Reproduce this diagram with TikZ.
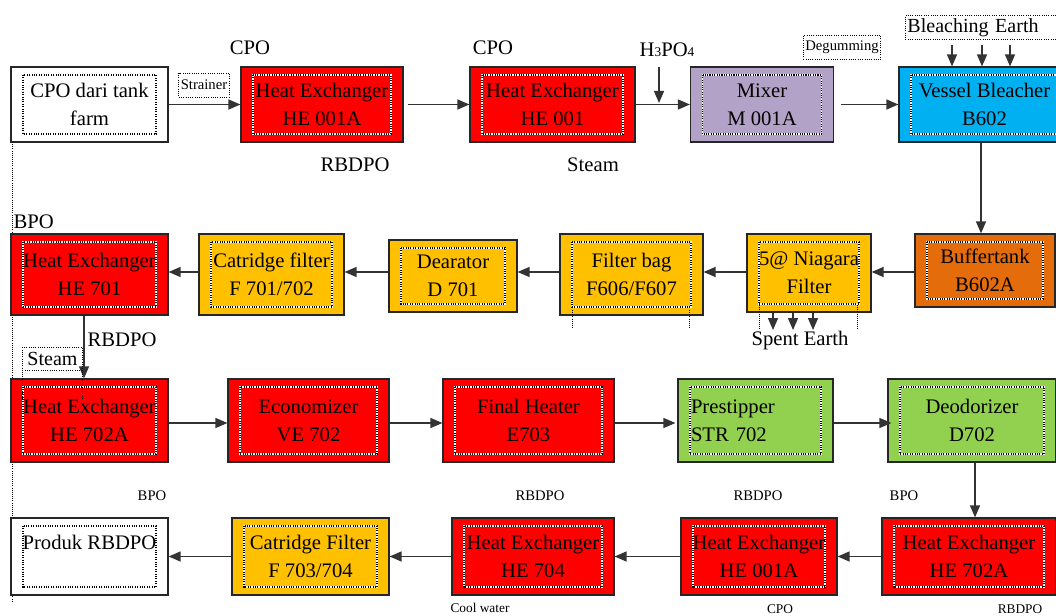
\documentclass[tikz,border=0pt]{standalone}
\usepackage{fontspec}
\setmainfont{Liberation Serif}
\usetikzlibrary{arrows.meta}
\definecolor{hxred}{HTML}{FF0000}
\definecolor{mixlilac}{HTML}{B3A2C7}
\definecolor{bleachblue}{HTML}{00B0F0}
\definecolor{bufforange}{HTML}{E46C0A}
\definecolor{filtgold}{HTML}{FFC000}
\definecolor{stripgreen}{HTML}{92D050}
\tikzset{
  unit/.style={draw=black!85, line width=0.9pt, align=center, inner sep=0pt,
    font=\fontsize{15.5}{21}\selectfont,
    path picture={
      \draw[white, line width=0.8pt] ([shift={(9pt,-6pt)}]path picture bounding box.north west) rectangle ([shift={(-9pt,6pt)}]path picture bounding box.south east);
      \draw[black, densely dotted, line width=0.8pt] ([shift={(9pt,-6pt)}]path picture bounding box.north west) rectangle ([shift={(-9pt,6pt)}]path picture bounding box.south east);
    }},
  boxsize/.style 2 args={minimum width=#1*0.75pt, minimum height=#2*0.75pt},
  heater/.style={unit, fill=hxred},
  filter/.style={unit, fill=filtgold},
  flow/.style={draw=black!80, line width=1pt, -{Triangle[length=9pt,width=7.5pt]}},
  tag/.style={font=\fontsize{15.5}{18}\selectfont, inner sep=1pt},
  small/.style={font=\fontsize{11}{13}\selectfont, inner sep=1pt},
  tiny/.style={font=\fontsize{10}{12}\selectfont, inner sep=1pt},
  note/.style={draw, densely dotted, line width=0.7pt, font=\fontsize{11}{12}\selectfont, inner sep=1.5pt, minimum height=18pt},
}
\begin{document}
\begin{tikzpicture}[x=0.75pt, y=-0.75pt]
\useasboundingbox (0,0) rectangle (1056,616);
\draw[densely dotted, line width=0.6pt] (12,142) -- (12,602);

% row 1
\node[unit, fill=white, boxsize={157}{75}] (src) at (89.5,104.5) {CPO dari tank\\farm};
\node[heater, boxsize={162}{75}] (he1) at (322,104.5) {Heat Exchanger\\HE 001A};
\node[heater, boxsize={165}{75}] (he2) at (552.5,104.5) {Heat Exchanger\\HE 001};
\node[unit, fill=mixlilac, boxsize={143}{75}] (mix) at (762,104.5) {Mixer\\M 001A};
\node[unit, fill=bleachblue, boxsize={171}{75}] (vb) at (984.5,104.5) {Vessel Bleacher\\B602};

% row 2
\node[heater, boxsize={157}{81}] (he701) at (89.5,274.5) {Heat Exchanger\\HE 701};
\node[filter, boxsize={145}{81}] (cf1) at (271.5,274.5) {Catridge filter\\F 701/702};
\node[filter, boxsize={128}{72}] (dea) at (453,276) {Dearator\\D 701};
\node[filter, boxsize={143}{81}] (fb) at (631.5,274.5) {Filter bag\\F606/F607};
\node[filter, boxsize={124}{78}] (nf) at (809,273) {5@ Niagara\\Filter};
\node[unit, fill=bufforange, boxsize={140}{73}] (bt) at (985,270.5) {Buffertank\\B602A};

% row 3
\node[heater, boxsize={157}{83}] (he702a) at (89.5,420.5) {Heat Exchanger\\HE 702A};
\node[heater, boxsize={161}{83}] (eco) at (308.5,420.5) {Economizer\\VE 702};
\node[heater, boxsize={171}{83}] (fh) at (528.5,420.5) {Final Heater\\E703};
\node[unit, fill=stripgreen, boxsize={155}{83}, text width=129*0.75pt, inner xsep=9.75pt, align=left] (pre) at (755.5,420.5) {Prestipper\\STR 702};
\node[unit, fill=stripgreen, boxsize={168}{83}] (deo) at (972,420.5) {Deodorizer\\D702};

% row 4
\node[unit, fill=white, boxsize={157}{77}] (prod) at (89.5,556.5) {Produk RBDPO\\\mbox{}};
\node[filter, boxsize={157}{77}] (cf2) at (310.5,556.5) {Catridge Filter\\F 703/704};
\node[heater, boxsize={162}{77}] (he704) at (533,556.5) {Heat Exchanger\\HE 704};
\node[heater, boxsize={156}{77}] (he3) at (759,556.5) {Heat Exchanger\\HE 001A};
\node[heater, boxsize={174}{77}] (he702b) at (969,556.5) {Heat Exchanger\\HE 702A};

% flow lines
\draw[flow] (src.east) -- (he1.west);
\draw[flow] ([xshift=3pt]he1.east) -- (he2.west);
\draw[flow] (he2.east) -- (mix.west);
\draw[flow] ([xshift=5pt]mix.east) -- (vb.west);
\draw[flow] (vb.south -| 981,0) -- (bt.north -| 981,0);
\draw[flow] (bt.west |- 0,272) -- (nf.east |- 0,272);
\draw[flow] (nf.west |- 0,272) -- (fb.east |- 0,272);
\draw[flow] (fb.west |- 0,272) -- (dea.east |- 0,272);
\draw[flow] (dea.west |- 0,272) -- (cf1.east |- 0,272);
\draw[flow] (cf1.west |- 0,272) -- (he701.east |- 0,272);
\draw[flow] (he701.south -| 84,0) -- (he702a.north -| 84,0);
\draw[flow] (he702a.east |- 0,423) -- (eco.west |- 0,423);
\draw[flow] (eco.east |- 0,423) -- (fh.west |- 0,423);
\draw[flow] (fh.east |- 0,423) -- ([xshift=-1.5pt]pre.west |- 0,423);
\draw[flow] (pre.east |- 0,423) -- ([xshift=3pt]deo.west |- 0,423);
\draw[flow] (deo.south -| 975,0) -- (he702b.north -| 975,0);
\draw[flow] (he702b.west) -- (he3.east);
\draw[flow] (he3.west) -- (he704.east);
\draw[flow] (he704.west) -- (cf2.east);
\draw[flow] (cf2.west) -- (prod.east);

% streams
\node[tag] (cpoa) at (250,48) {CPO};
\node[tag] (cpob) at (493,48) {CPO};
\node[tag] (rbdpoa) at (355,165) {RBDPO};
\node[tag] (steama) at (593,165) {Steam};
\node[tag] (acid) at (667,50) {H{\fontsize{10}{12}\selectfont 3}PO{\fontsize{10}{12}\selectfont 4}};
\coordinate (doseTop) at (659,67);
\coordinate (dose) at (659,103);
\draw[flow] (doseTop) -- (dose);
\node[note] (strainer) at (204,85) {Strainer};
\node[note] (degum) at (842,47.5) {Degumming};
\node[note, font=\fontsize{15}{18}\selectfont, anchor=west, text width=150*0.75pt, align=left, inner sep=1.5pt] (be) at (905,27.5) {Bleaching Earth};
\foreach \x in {952,982,1010}
  \draw[flow] (be.south -| \x,0) ++(0,5) -- (vb.north -| \x,0);

\node[tag, anchor=west] (bpoa) at (12,222) {BPO};
\node[tag] (rbdpob) at (122,340) {RBDPO};
\node[note, font=\fontsize{15}{18}\selectfont, anchor=north west, minimum width=60*0.75pt, minimum height=23*0.75pt, inner sep=0pt] (steamb) at (22,347) {Steam};
\draw[densely dotted, line width=0.6pt] (22,370) -- (22,398) (82,370) -- (82,398);
\node[tag] (spent) at (800,341) {Spent Earth};
\foreach \x in {773,793,813}
  \draw[flow] (nf.south -| \x,0) -- (spent.north -| \x,0);
\draw[densely dotted, line width=0.6pt] (572,310) -- (572,329) (689,310) -- (689,329)
  (759,305) -- (759,330) (857,305) -- (857,330);

\node[small] (bpob) at (152,496) {BPO};
\node[small] (rbdpoc) at (540,496) {RBDPO};
\node[small] (rbdpod) at (758,496) {RBDPO};
\node[small] (bpoc) at (904,496) {BPO};
\node[tiny] (cool) at (480,608) {Cool water};
\node[tiny] (cpoc) at (780,609) {CPO};
\node[tiny] (rbdpoe) at (1020,609) {RBDPO};
\end{tikzpicture}
\end{document}
